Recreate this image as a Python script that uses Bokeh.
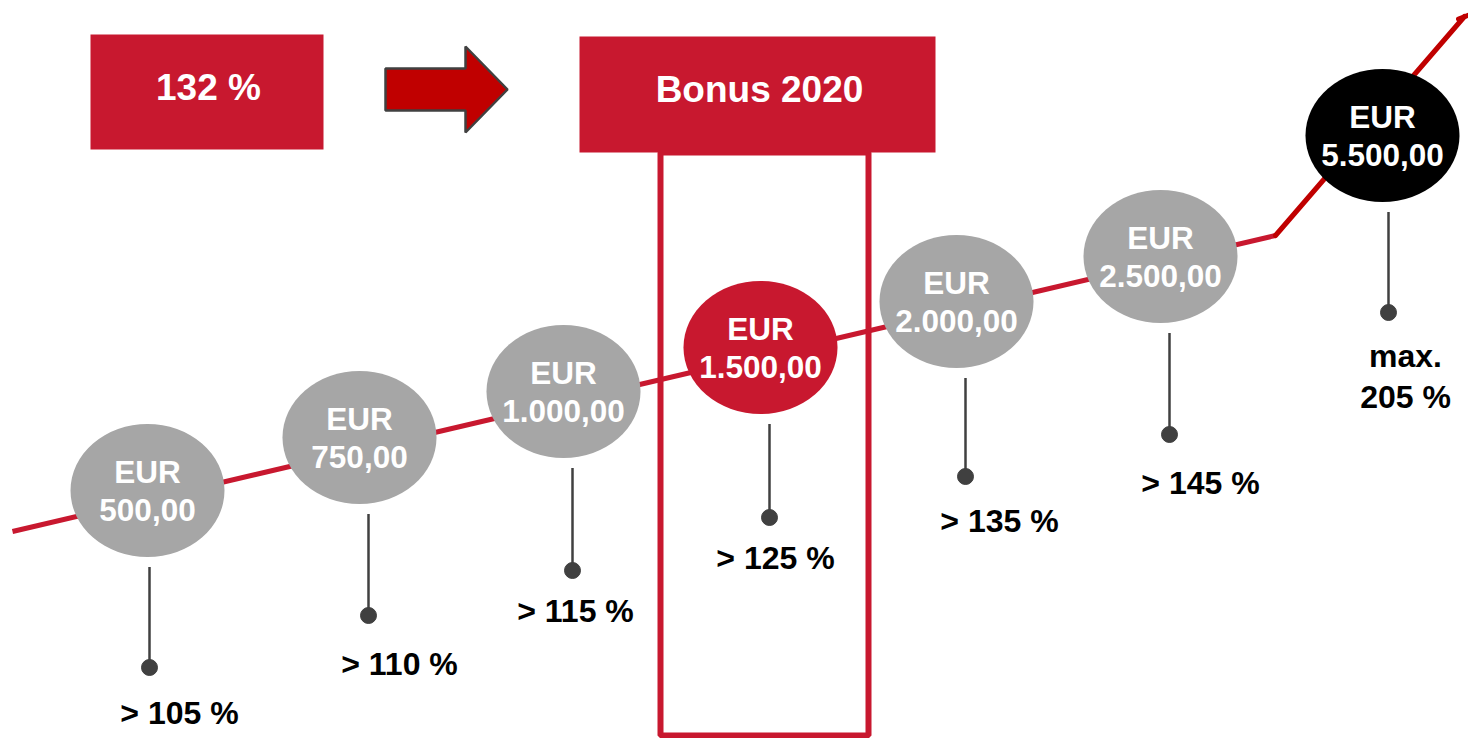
from bokeh.plotting import figure
from bokeh.models import Range1d, ColumnDataSource
from bokeh.core.properties import value
from bokeh.embed import file_html
from bokeh.resources import INLINE

# ---------------- data ----------------
currency = "EUR"
amounts = ["500,00", "750,00", "1.000,00", "1.500,00", "2.000,00", "2.500,00", "5.500,00"]
thresholds = ["> 105 %", "> 110 %", "> 115 %", "> 125 %", "> 135 %", "> 145 %", "max.\n205 %"]
current_score = "132 %"
bonus_title = "Bonus 2020"
achieved_tier = 3  # index of the tier reached (1.500,00)

# ---------------- layout (pixel-like canvas units) ----------------
tier_x = [147, 359, 563, 760, 956, 1160, 1382]
tier_y = [490, 437, 391, 347, 301, 256, 135]
stem_dx = [2, 9, 9, 9, 9, 9, 6]
label_dx = [30, 31, 3, 6, 34, 31, 17]
dot_y = [667, 615, 570, 517, 476, 434, 312]
label_y = [712, 663, 610, 557, 520, 482, 376]
ell_w, ell_h = 154, 133

GRAY = "#A6A6A6"
RED = "#C8182F"
DARK_RED = "#C00000"
STEM = "#404040"
FONT = value("Liberation Sans")

fills = []
for i in range(len(amounts)):
    if i == len(amounts) - 1:
        fills.append("#000000")
    elif i == achieved_tier:
        fills.append(RED)
    else:
        fills.append(GRAY)

stem_x = [x + d for x, d in zip(tier_x, stem_dx)]
stem_top = [y + ell_h / 2 + 10 for y in tier_y]
lab_x = [x + d for x, d in zip(stem_x, label_dx)]

src = ColumnDataSource(dict(
    x=tier_x, y=tier_y, fill=fills,
    eur_y=[y - 19 for y in tier_y], amt_y=[y + 19 for y in tier_y],
    cur=[currency] * len(amounts), amt=amounts,
    sx=stem_x, st=stem_top, dy=dot_y,
    lx=lab_x, ly=label_y, lab=thresholds,
))

W, H = 1468, 738
p = figure(width=W, height=H, output_backend="svg", toolbar_location=None,
           x_range=Range1d(0, W), y_range=Range1d(H, 0),
           min_border=0, min_border_left=0, min_border_right=0,
           min_border_top=0, min_border_bottom=0)
p.axis.visible = False
p.grid.visible = False
p.outline_line_color = None
p.background_fill_color = "white"
p.border_fill_color = "white"

# growth line
p.line([12, 1275], [531, 235], line_color=RED, line_width=5)
p.line([1275, 1464], [235, 16], line_color=DARK_RED, line_width=5, line_cap="round")
p.line([1458, 1470], [18.5, 14], line_color=DARK_RED, line_width=5, line_cap="round")

# highlight frame for the bonus column
p.quad(left=[660], right=[868], top=[152], bottom=[735],
       fill_color=None, line_color=RED, line_width=6)

# top boxes
p.quad(left=[90], right=[323], top=[34], bottom=[149], fill_color=RED, line_color=None)
p.quad(left=[579], right=[935], top=[36], bottom=[152], fill_color=RED, line_color=None)
p.text(x=[208], y=[87], text=[current_score], text_color="white",
       text_font=FONT, text_font_style="bold", text_font_size="37px",
       text_align="center", text_baseline="middle")
p.text(x=[759], y=[89], text=[bonus_title], text_color="white",
       text_font=FONT, text_font_style="bold", text_font_size="37px",
       text_align="center", text_baseline="middle")

# arrow
ax = [385, 465, 465, 507, 465, 465, 385]
ay = [68, 68, 46, 89, 132, 110, 110]
p.patch(ax, ay, fill_color=DARK_RED, line_color="#404040", line_width=2.5)

# stems & dots
p.segment(x0="sx", y0="st", x1="sx", y1="dy", source=src, line_color=STEM, line_width=2.5)
p.scatter(x="sx", y="dy", source=src, size=16, fill_color=STEM, line_color=STEM)

# ellipses
p.ellipse(x="x", y="y", width=ell_w, height=ell_h, source=src,
          fill_color="fill", line_color=None)
p.text(x="x", y="eur_y", text="cur", source=src, text_color="white",
       text_font=FONT, text_font_style="bold", text_font_size="31.5px",
       text_align="center", text_baseline="middle")
p.text(x="x", y="amt_y", text="amt", source=src, text_color="white",
       text_font=FONT, text_font_style="bold", text_font_size="31.5px",
       text_align="center", text_baseline="middle")

# threshold labels
p.text(x="lx", y="ly", text="lab", source=src, text_color="black",
       text_font=FONT, text_font_style="bold", text_font_size="32px",
       text_align="center", text_baseline="middle", text_line_height=1.15)

open("out.html", "w").write(file_html(p, INLINE))
